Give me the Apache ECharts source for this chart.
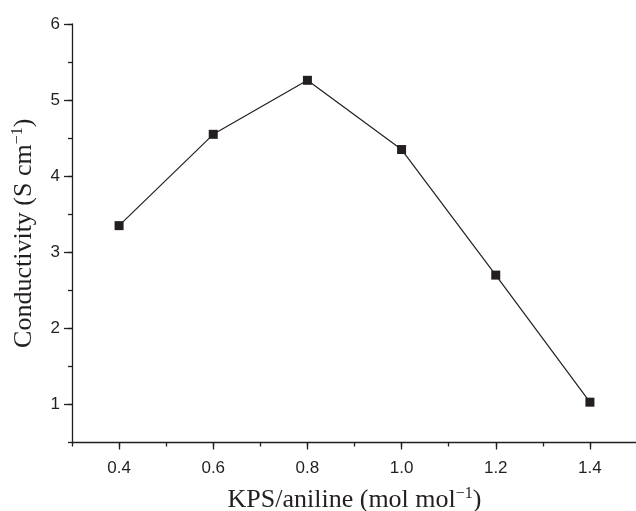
<!DOCTYPE html>
<html><head><meta charset="utf-8">
<script src="https://cdn.jsdelivr.net/npm/echarts@6/dist/echarts.min.js"></script>
<style>html,body{margin:0;padding:0;background:#fff}#c{width:636px;height:511px}</style>
</head><body><div id="c"></div>
<script>
var xValues = [0.4, 0.6, 0.8, 1.0, 1.2, 1.4];
var conductivity = [3.35, 4.55, 5.26, 4.35, 2.70, 1.03];
var xLabelTicks = [0.4, 0.6, 0.8, 1.0, 1.2, 1.4];
var yLabelTicks = [1, 2, 3, 4, 5, 6];

var chart = echarts.init(document.getElementById('c'));
var ink = '#231f20';
var sans = 'Liberation Sans, Arial, sans-serif';
var serif = 'Liberation Serif, Times New Roman, serif';
var nameRich = {
  n: {fontFamily: serif, fontSize: 26, color: ink},
  s: {fontFamily: serif, fontSize: 16, color: ink, padding: [0, 0, 13, 0]}
};
chart.setOption({
  animation: false,
  backgroundColor: '#fff',
  grid: {left: 72, right: -1, top: 24, bottom: 68.5, containLabel: false, outerBoundsMode: 'none'},
  xAxis: [{
    type: 'value', min: 0.3, max: 1.5, interval: 0.1,
    axisLine: {lineStyle: {color: ink, width: 1.3}},
    axisTick: {length: 4, lineStyle: {color: ink, width: 1.3}},
    axisLabel: {show: false},
    splitLine: {show: false},
    name: '{n|KPS/aniline (mol mol}{s|−1}{n|)}',
    nameLocation: 'middle', nameGap: 43,
    nameTextStyle: {rich: nameRich}
  }, {
    type: 'value', min: 0.3, max: 1.5, position: 'bottom',
    axisLine: {show: false},
    axisTick: {show: true, length: 7, customValues: xLabelTicks, lineStyle: {color: ink, width: 1.3}},
    axisLabel: {customValues: xLabelTicks, color: ink, fontFamily: sans, fontSize: 17, margin: 17,
      formatter: function (v) { return v.toFixed(1); }},
    splitLine: {show: false}
  }],
  yAxis: [{
    type: 'value', min: 0.5, max: 6, interval: 0.5,
    axisLine: {show: true, lineStyle: {color: ink, width: 1.3}},
    axisTick: {show: true, length: 4, lineStyle: {color: ink, width: 1.3}},
    axisLabel: {show: false},
    splitLine: {show: false},
    name: '{n|Conductivity (S cm}{s|−1}{n|)}',
    nameLocation: 'middle', nameGap: 33, nameRotate: 90,
    nameTextStyle: {rich: nameRich}
  }, {
    type: 'value', min: 0.5, max: 6, position: 'left',
    axisLine: {show: false},
    axisTick: {show: true, length: 8, customValues: yLabelTicks, lineStyle: {color: ink, width: 1.3}},
    axisLabel: {customValues: yLabelTicks, color: ink, fontFamily: sans, fontSize: 17, margin: 12},
    splitLine: {show: false}
  }],
  series: [{
    type: 'line',
    xAxisIndex: 0, yAxisIndex: 0,
    data: xValues.map(function (x, i) { return [x, conductivity[i]]; }),
    symbol: 'rect', symbolSize: 9,
    lineStyle: {color: ink, width: 1.2},
    itemStyle: {color: ink, borderWidth: 0}
  }]
});
</script></body></html>
